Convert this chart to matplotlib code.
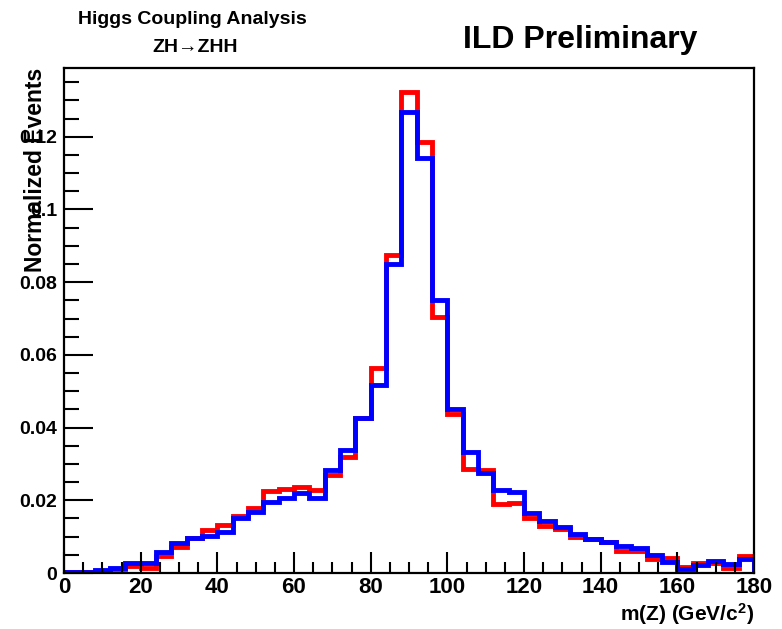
import numpy as np
import matplotlib
matplotlib.use("Agg")
import matplotlib.pyplot as plt
from matplotlib.ticker import MultipleLocator

plt.rcParams['font.family'] = ['Liberation Sans', 'DejaVu Sans']
plt.rcParams['font.weight'] = 'bold'
plt.rcParams['mathtext.fontset'] = 'custom'
plt.rcParams['mathtext.rm'] = 'Liberation Sans:bold'
plt.rcParams['mathtext.bf'] = 'Liberation Sans:bold'
plt.rcParams['mathtext.default'] = 'bf'

# 4 GeV bins from 0 to 180
bin_edges = np.arange(0, 181, 4)

# red histogram (normalized)
red_vals = [0.0003, 0.0003, 0.0002, 0.0010, 0.0018, 0.0015, 0.0047, 0.0071, 0.0095, 0.0118,
            0.0132, 0.0157, 0.0178, 0.0226, 0.0230, 0.0236, 0.0228, 0.0270, 0.0320, 0.0425,
            0.0563, 0.0875, 0.1324, 0.1185, 0.0705, 0.0436, 0.0286, 0.0283, 0.0190, 0.0192,
            0.0152, 0.0128, 0.0120, 0.0098, 0.0093, 0.0084, 0.0060, 0.0060, 0.0038, 0.0040,
            0.0017, 0.0028, 0.0027, 0.0013, 0.0047]

# blue histogram (normalized)
blue_vals = [0.0003, 0.0003, 0.0008, 0.0015, 0.0028, 0.0028, 0.0059, 0.0083, 0.0095, 0.0102,
             0.0114, 0.0150, 0.0169, 0.0196, 0.0205, 0.0219, 0.0207, 0.0283, 0.0338, 0.0426,
             0.0517, 0.0850, 0.1269, 0.1141, 0.0751, 0.0450, 0.0332, 0.0274, 0.0229, 0.0224,
             0.0164, 0.0143, 0.0127, 0.0107, 0.0093, 0.0084, 0.0075, 0.0070, 0.0050, 0.0031,
             0.0010, 0.0022, 0.0034, 0.0024, 0.0038]

fig = plt.figure(figsize=(7.82, 6.29), dpi=100)
ax = fig.add_axes([64/782, 1 - 573/629, 690/782, 505/629])

ax.stairs(red_vals, bin_edges, color='#ff0000', linewidth=3.5, baseline=0)
ax.stairs(blue_vals, bin_edges, color='#0000ff', linewidth=3.5, baseline=0)

ax.set_xlim(0, 180)
ax.set_ylim(0, 0.1389)

ax.xaxis.set_major_locator(MultipleLocator(20))
ax.xaxis.set_minor_locator(MultipleLocator(5))
ax.yaxis.set_major_locator(MultipleLocator(0.02))
ax.yaxis.set_minor_locator(MultipleLocator(0.005))
ax.yaxis.set_major_formatter(plt.FuncFormatter(lambda v, p: '0' if v == 0 else ('%g' % round(v, 3))))

ax.tick_params(axis='both', which='both', direction='in', top=False, right=False, width=1.5)
ax.tick_params(axis='x', which='major', length=15, pad=3, labelsize=16)
ax.tick_params(axis='x', which='minor', length=8)
ax.tick_params(axis='y', which='major', length=21, pad=5, labelsize=14)
ax.tick_params(axis='y', which='minor', length=11)
for s in ax.spines.values():
    s.set_linewidth(1.6)

ax.set_xlabel(r'm(Z) (GeV/c$^{2}$)', fontsize=15, fontweight='bold', loc='right')
ax.xaxis.set_label_coords(1.0, -0.055)
ax.set_ylabel('Normalized Events', fontsize=16.5, fontweight='bold', loc='top')
ax.yaxis.set_label_coords(-0.025, 1.0)

fig.text(192/782, 1 - 19/629, 'Higgs Coupling Analysis', fontsize=14, fontweight='bold',
         ha='center', va='center')
fig.text(195/782, 1 - 47/629, 'ZH\u2192ZHH', fontsize=14, fontweight='bold',
         ha='center', va='center')
fig.text(580/782, 1 - 40/629, 'ILD Preliminary', fontsize=23, fontweight='bold',
         ha='center', va='center')

fig.savefig('out.png', dpi=100)
